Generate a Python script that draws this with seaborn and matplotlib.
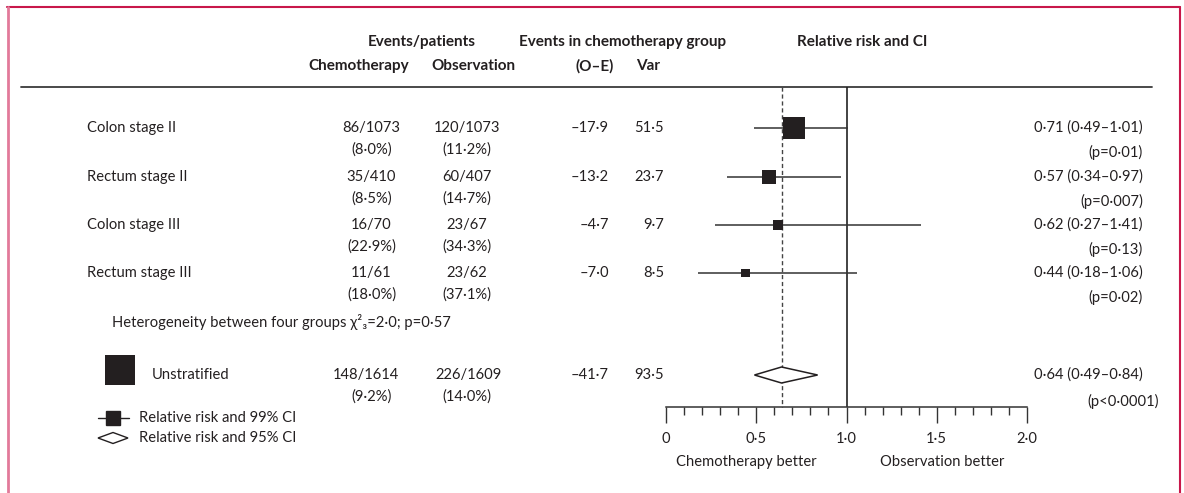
import numpy as np
import pandas as pd
import seaborn as sns
import matplotlib.pyplot as plt


groups = ["Colon stage II", "Rectum stage II", "Colon stage III", "Rectum stage III"]
chemo_events = ["86/1073", "35/410", "16/70", "11/61"]
chemo_pct = ["(8·0%)", "(8·5%)", "(22·9%)", "(18·0%)"]
obs_events = ["120/1073", "60/407", "23/67", "23/62"]
obs_pct = ["(11·2%)", "(14·7%)", "(34·3%)", "(37·1%)"]
o_minus_e = [-17.9, -13.2, -4.7, -7.0]
var = [51.5, 23.7, 9.7, 8.5]
rr = [0.71, 0.57, 0.62, 0.44]
ci_lo = [0.49, 0.34, 0.27, 0.18]
ci_hi = [1.01, 0.97, 1.41, 1.06]
p_vals = ["p=0·01", "p=0·007", "p=0·13", "p=0·02"]

total_chemo = "148/1614"
total_chemo_pct = "(9·2%)"
total_obs = "226/1609"
total_obs_pct = "(14·0%)"
total_oe = -41.7
total_var = 93.5
total_rr = 0.64
total_lo = 0.49
total_hi = 0.84
total_p = "p<0·0001"

heterogeneity = "Heterogeneity between four groups χ²₃=2·0; p=0·57"
xtick_vals = [0, 0.5, 1.0, 1.5, 2.0]
xtick_labels = ["0", "0·5", "1·0", "1·5", "2·0"]


def f1(v):
    return f"{v:.1f}".replace(".", "·").replace("-", "–")


def f2(v):
    return f"{v:.2f}".replace(".", "·")


sns.set_theme(style="white")
plt.rcParams['font.family'] = ['Lato', 'DejaVu Sans']

TXT = "#231f20"
FS = 10.6
HFS = 11

fig = plt.figure(figsize=(11.84, 4.93), dpi=100)

# text / layout layer in pixel coordinates
bg = fig.add_axes([0, 0, 1, 1])
bg.set_xlim(0, 1184)
bg.set_ylim(493, 0)
bg.axis('off')

# frame
bg.plot([7, 1180], [7, 7], color="#c8174a", lw=1.5)
bg.plot([1180, 1180], [7, 493], color="#c8174a", lw=1.5)
bg.plot([8, 8], [7, 493], color="#e27a9a", lw=2)

# headers
hd = dict(fontsize=HFS, fontweight='bold', color=TXT, va='center')
bg.text(422, 42, "Events/patients", ha='center', **hd)
bg.text(623, 42, "Events in chemotherapy group", ha='center', **hd)
bg.text(862, 42, "Relative risk and CI", ha='center', **hd)
bg.text(359, 66, "Chemotherapy", ha='center', **hd)
bg.text(473, 66, "Observation", ha='center', **hd)
bg.text(595, 66, "(O–E)", ha='center', **hd)
bg.text(648, 66, "Var", ha='center', **hd)
bg.plot([21, 1152], [87, 87], color="#3a3a3a", lw=1.3)

row_y = [128, 177, 225, 273]
tot_y = 375
tx = dict(fontsize=FS, color=TXT, va='center')

for i, g in enumerate(groups):
    y = row_y[i]
    bg.text(87, y, g, ha='left', **tx)
    bg.text(371, y, chemo_events[i], ha='center', **tx)
    bg.text(372, y + 22, chemo_pct[i], ha='center', **tx)
    bg.text(467, y, obs_events[i], ha='center', **tx)
    bg.text(467, y + 22, obs_pct[i], ha='center', **tx)
    bg.text(609, y, f1(o_minus_e[i]), ha='right', **tx)
    bg.text(664, y, f1(var[i]), ha='right', **tx)
    bg.text(1143, y, f"{f2(rr[i])} ({f2(ci_lo[i])}–{f2(ci_hi[i])})", ha='right', **tx)
    bg.text(1143, y + 24, f"({p_vals[i]})", ha='right', **tx)

bg.text(112, 322, heterogeneity, ha='left', **tx)

# unstratified row
bg.scatter([120], [370], s=4.67 * total_var, marker='s', color=TXT, linewidths=0)
bg.text(152, tot_y, "Unstratified", ha='left', **tx)
bg.text(366, tot_y, total_chemo, ha='center', **tx)
bg.text(372, tot_y + 22, total_chemo_pct, ha='center', **tx)
bg.text(469, tot_y, total_obs, ha='center', **tx)
bg.text(467, tot_y + 22, total_obs_pct, ha='center', **tx)
bg.text(609, tot_y, f1(total_oe), ha='right', **tx)
bg.text(664, tot_y, f1(total_var), ha='right', **tx)
bg.text(1143, tot_y, f"{f2(total_rr)} ({f2(total_lo)}–{f2(total_hi)})", ha='right', **tx)
bg.text(1087, tot_y + 26, f"({total_p})", ha='left', **tx)

# legend glyphs
bg.plot([98, 129], [418, 418], color=TXT, lw=1)
bg.plot([113], [418], marker='s', ms=10, color=TXT, lw=0)
bg.fill([98, 113, 128, 113], [438, 432.5, 438, 443.5], facecolor='white', edgecolor=TXT, lw=1)
bg.text(139, 418, "Relative risk and 99% CI", ha='left', **tx)
bg.text(139, 438, "Relative risk and 95% CI", ha='left', **tx)

bg.text(746, 462, "Chemotherapy better", ha='center', **tx)
bg.text(942, 462, "Observation better", ha='center', **tx)

# forest panel: x in relative risk, y in pixel rows
fa = fig.add_axes([666 / 1184, 0, 361 / 1184, 1])
fa.patch.set_alpha(0)
fa.set_xlim(0, 2)
fa.set_ylim(493, 0)

df = pd.DataFrame({"group": groups, "rr": rr, "lo": ci_lo, "hi": ci_hi,
                   "var": var, "y": row_y})

fa.vlines(1.0, 87, 407, color="#222222", lw=1.2)
fa.vlines(total_rr, 87, 407, color="#444444", lw=1, linestyles=(0, (3, 2)))
fa.hlines(df["y"], df["lo"], df["hi"], color="#333333", lw=1.1)
sns.scatterplot(data=df, x="rr", y="y", size="var", sizes=(0, 467), size_norm=(0, 100),
                marker='s', color=TXT, linewidth=0, legend=False, ax=fa, zorder=3)
fa.fill([total_lo, total_rr, total_hi, total_rr], [tot_y, tot_y - 8, tot_y, tot_y + 8],
        facecolor='white', edgecolor=TXT, lw=1.1, zorder=3)

for s in ['top', 'left', 'right']:
    fa.spines[s].set_visible(False)
fa.spines['bottom'].set_position(('data', 407))
fa.spines['bottom'].set_color("#333333")
fa.spines['bottom'].set_linewidth(1.1)
fa.set_yticks([])
fa.set_xticks(xtick_vals)
fa.set_xticklabels(xtick_labels)
fa.set_xticks(np.arange(0, 2.01, 0.1), minor=True)
fa.tick_params(axis='x', which='major', direction='out', length=11.5, width=1,
               color="#333333", pad=6.5, labelsize=FS, labelcolor=TXT, bottom=True)
fa.tick_params(axis='x', which='minor', direction='out', length=5.8, width=1,
               color="#333333", bottom=True)
fa.set_xlabel("")
fa.set_ylabel("")

plt.savefig('out.png', dpi=100)
